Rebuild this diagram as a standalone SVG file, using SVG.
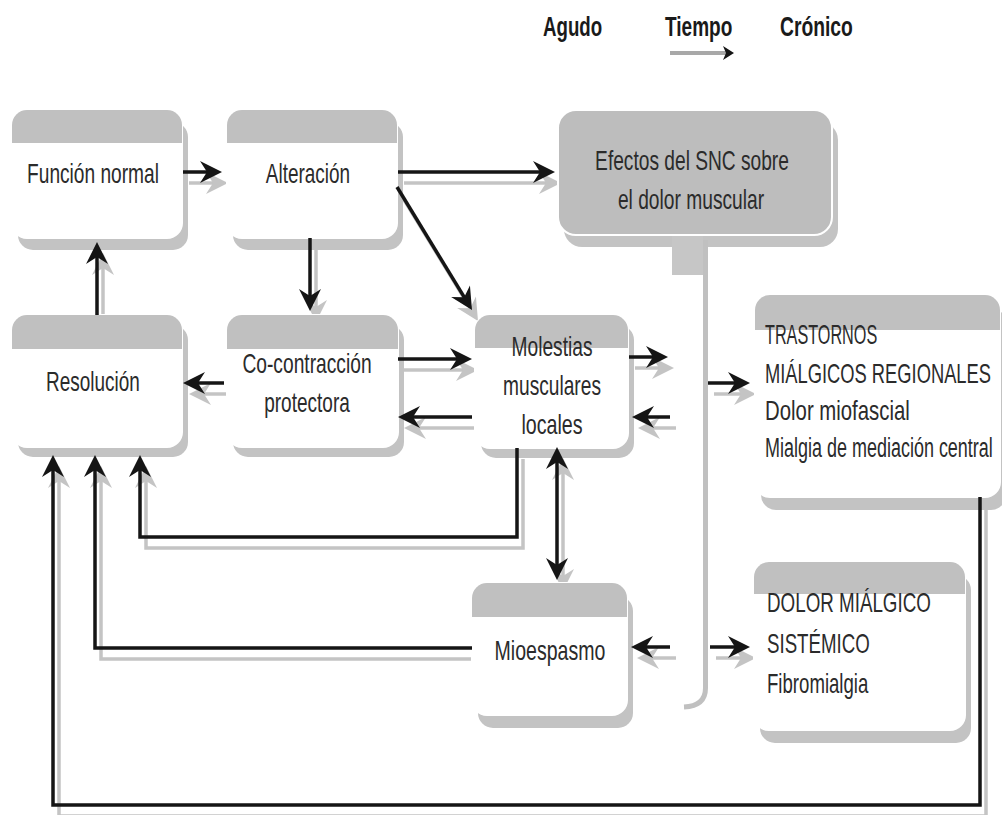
<svg xmlns="http://www.w3.org/2000/svg" width="1002" height="815" viewBox="0 0 1002 815">
<style>
  .bshadow{fill:#c3c3c3;}
  .body{fill:#ffffff;stroke:#ffffff;stroke-width:2;}
  .band{fill:#c0c0c0;}
  .t{font-family:"Liberation Sans",Arial,sans-serif;font-size:28px;fill:#2b2b2b;}
  .m{text-anchor:middle;}
  .hd{font-family:"Liberation Sans",Arial,sans-serif;font-size:27px;font-weight:bold;fill:#1a1a1a;}
  .c{fill:none;stroke:#151515;stroke-width:3.5;marker-end:url(#ah);}
  .s{fill:none;stroke:#c4c4c4;stroke-width:3.5;marker-end:url(#ahs);}
  .c2{fill:none;stroke:#151515;stroke-width:3.5;marker-start:url(#ah2);marker-end:url(#ah2);}
  .s2{fill:none;stroke:#c4c4c4;stroke-width:3.5;marker-start:url(#ahs2);marker-end:url(#ahs2);}
</style>
<defs>
  <marker id="ah" viewBox="-20 -12 27 24" refX="0" refY="0" markerWidth="27" markerHeight="24" markerUnits="userSpaceOnUse" orient="auto">
    <path d="M5,0 L-17,-11 L-10,0 L-17,11 Z" fill="#151515"/>
  </marker>
  <marker id="ahs" viewBox="-20 -12 27 24" refX="0" refY="0" markerWidth="27" markerHeight="24" markerUnits="userSpaceOnUse" orient="auto">
    <path d="M5,0 L-17,-11 L-10,0 L-17,11 Z" fill="#c4c4c4"/>
  </marker>
  <marker id="ah2" viewBox="-20 -12 27 24" refX="0" refY="0" markerWidth="27" markerHeight="24" markerUnits="userSpaceOnUse" orient="auto-start-reverse">
    <path d="M5,0 L-17,-11 L-10,0 L-17,11 Z" fill="#151515"/>
  </marker>
  <marker id="ahs2" viewBox="-20 -12 27 24" refX="0" refY="0" markerWidth="27" markerHeight="24" markerUnits="userSpaceOnUse" orient="auto-start-reverse">
    <path d="M5,0 L-17,-11 L-10,0 L-17,11 Z" fill="#c4c4c4"/>
  </marker>
</defs>
<rect width="1002" height="815" fill="#ffffff"/>

<g id="legend">
  <text class="hd" transform="translate(543,36) scale(0.68,1)" textLength="87" lengthAdjust="spacingAndGlyphs">Agudo</text>
  <text class="hd" transform="translate(665,36) scale(0.68,1)" textLength="99" lengthAdjust="spacingAndGlyphs">Tiempo</text>
  <text class="hd" transform="translate(780,36) scale(0.68,1)" textLength="107" lengthAdjust="spacingAndGlyphs">Crónico</text>
  <line x1="670" y1="53" x2="726" y2="53" stroke="#a8a8a8" stroke-width="4"/>
  <path d="M734,53 L723,46 L726,53 L723,60 Z" fill="#151515"/>
</g>

<g id="connector-shadows" transform="translate(6,11)">
  <path class="s" d="M183,172 H217"/>
  <path class="s" d="M398,172 H550"/>
  <path class="s" d="M397,187 L469.4,305.7"/>
  <path class="s" d="M310,238 V306"/>
  <path class="s" d="M97,315 V247"/>
  <path class="s" d="M224,383 H188"/>
  <path class="s" d="M398,359 H467"/>
  <path class="s" d="M472,417 H403"/>
  <path class="s" d="M629,357 H663"/>
  <path class="s" d="M670,417 H637"/>
  <path class="s" d="M708,383 H745"/>
  <path class="s" d="M517,448 V537 H140 V460"/>
  <path class="s2" d="M557,452 V575"/>
  <path class="s" d="M466,648 H95 V460"/>
  <path class="s" d="M670,647 H636"/>
  <path class="s" d="M710,647 H745"/>
  <path class="s" d="M980,497 V805 H53 V460"/>
</g>

<g id="n-funcion-normal">
  <rect class="bshadow" x="18" y="122" width="170" height="128" rx="15"/>
  <rect class="body" x="12" y="110" width="170" height="128" rx="15"/>
  <path class="band" d="M12,143 V125 A15,15 0 0 1 27,110 H167 A15,15 0 0 1 182,125 V143 Z"/>
  <text class="t m" transform="translate(93,183) scale(0.68,1)" textLength="194" lengthAdjust="spacingAndGlyphs">Función normal</text>
</g>

<g id="n-alteracion">
  <rect class="bshadow" x="233" y="122" width="170" height="128" rx="15"/>
  <rect class="body" x="227" y="110" width="170" height="128" rx="15"/>
  <path class="band" d="M227,143 V125 A15,15 0 0 1 242,110 H382 A15,15 0 0 1 397,125 V143 Z"/>
  <text class="t m" transform="translate(308,183) scale(0.68,1)" textLength="124" lengthAdjust="spacingAndGlyphs">Alteración</text>
</g>

<g id="n-snc">
  <rect class="bshadow" x="564" y="122" width="274" height="125" rx="18"/>
  <rect x="672" y="235" width="31" height="40" fill="#c6c6c6"/>
  <path d="M705.5,240 V688 Q705.5,706 684,707" fill="none" stroke="#c0c0c0" stroke-width="5"/>
  <rect x="558" y="110" width="274" height="125" rx="18" fill="#bdbdbd" stroke="#ffffff" stroke-width="2"/>
  <text class="t m" transform="translate(692,170) scale(0.68,1)" textLength="285" lengthAdjust="spacingAndGlyphs">Efectos del SNC sobre</text>
  <text class="t m" transform="translate(691,209) scale(0.68,1)" textLength="215" lengthAdjust="spacingAndGlyphs">el dolor muscular</text>
</g>

<g id="n-resolucion">
  <rect class="bshadow" x="18" y="325" width="170" height="132" rx="15"/>
  <rect class="body" x="12" y="315" width="170" height="132" rx="15"/>
  <path class="band" d="M12,349 V330 A15,15 0 0 1 27,315 H167 A15,15 0 0 1 182,330 V349 Z"/>
  <text class="t m" transform="translate(93,391) scale(0.68,1)" textLength="138" lengthAdjust="spacingAndGlyphs">Resolución</text>
</g>

<g id="n-cocontraccion">
  <rect class="bshadow" x="233" y="325" width="171" height="132" rx="15"/>
  <rect class="body" x="227" y="315" width="171" height="132" rx="15"/>
  <path class="band" d="M227,349 V330 A15,15 0 0 1 242,315 H383 A15,15 0 0 1 398,330 V349 Z"/>
  <text class="t m" transform="translate(307,373) scale(0.68,1)" textLength="190" lengthAdjust="spacingAndGlyphs">Co-contracción</text>
  <text class="t m" transform="translate(307,412) scale(0.68,1)" textLength="126" lengthAdjust="spacingAndGlyphs">protectora</text>
</g>

<g id="n-molestias">
  <rect class="bshadow" x="481" y="325" width="153" height="133" rx="15"/>
  <rect class="body" x="475" y="315" width="153" height="133" rx="15"/>
  <path class="band" d="M475,348 V330 A15,15 0 0 1 490,315 H613 A15,15 0 0 1 628,330 V348 Z"/>
  <text class="t m" transform="translate(552,356) scale(0.68,1)" textLength="119" lengthAdjust="spacingAndGlyphs">Molestias</text>
  <text class="t m" transform="translate(552,395) scale(0.68,1)" textLength="144" lengthAdjust="spacingAndGlyphs">musculares</text>
  <text class="t m" transform="translate(552,434) scale(0.68,1)" textLength="90" lengthAdjust="spacingAndGlyphs">locales</text>
</g>

<g id="n-mioespasmo">
  <rect class="bshadow" x="478" y="596" width="155" height="132" rx="15"/>
  <rect class="body" x="472" y="583" width="155" height="132" rx="15"/>
  <path class="band" d="M472,617 V598 A15,15 0 0 1 487,583 H612 A15,15 0 0 1 627,598 V617 Z"/>
  <text class="t m" transform="translate(550,660) scale(0.68,1)" textLength="163" lengthAdjust="spacingAndGlyphs">Mioespasmo</text>
</g>

<g id="n-trastornos">
  <rect class="bshadow" x="761" y="308" width="245" height="202" rx="15"/>
  <rect class="body" x="755" y="295" width="245" height="202" rx="15"/>
  <path class="band" d="M755,330 V310 A15,15 0 0 1 770,295 H985 A15,15 0 0 1 1000,310 V330 Z"/>
  <text class="t" transform="translate(765,344) scale(0.68,1)" textLength="165" lengthAdjust="spacingAndGlyphs">TRASTORNOS</text>
  <text class="t" transform="translate(765,383) scale(0.655,1)" textLength="345" lengthAdjust="spacingAndGlyphs">MIÁLGICOS REGIONALES</text>
  <text class="t" transform="translate(765,420) scale(0.68,1)" textLength="213" lengthAdjust="spacingAndGlyphs">Dolor miofascial</text>
  <text class="t" transform="translate(765,457) scale(0.64,1)" textLength="356" lengthAdjust="spacingAndGlyphs">Mialgia de mediación central</text>
</g>

<g id="n-dolor-sistemico">
  <rect class="bshadow" x="760" y="575" width="211" height="168" rx="15"/>
  <rect class="body" x="754" y="562" width="211" height="168" rx="15"/>
  <path class="band" d="M754,594 V577 A15,15 0 0 1 769,562 H950 A15,15 0 0 1 965,577 V594 Z"/>
  <text class="t" transform="translate(767,612) scale(0.68,1)" textLength="241" lengthAdjust="spacingAndGlyphs">DOLOR MIÁLGICO</text>
  <text class="t" transform="translate(767,653) scale(0.68,1)" textLength="151" lengthAdjust="spacingAndGlyphs">SISTÉMICO</text>
  <text class="t" transform="translate(767,693) scale(0.68,1)" textLength="149" lengthAdjust="spacingAndGlyphs">Fibromialgia</text>
</g>

<g id="connectors">
  <path class="c" d="M183,172 H217"/>
  <path class="c" d="M398,172 H550"/>
  <path class="c" d="M397,187 L469.4,305.7"/>
  <path class="c" d="M310,238 V306"/>
  <path class="c" d="M97,315 V247"/>
  <path class="c" d="M224,383 H188"/>
  <path class="c" d="M398,359 H467"/>
  <path class="c" d="M472,417 H403"/>
  <path class="c" d="M629,357 H663"/>
  <path class="c" d="M670,417 H637"/>
  <path class="c" d="M708,383 H745"/>
  <path class="c" d="M517,448 V537 H140 V460"/>
  <path class="c2" d="M557,452 V575"/>
  <path class="c" d="M472,648 H95 V460"/>
  <path class="c" d="M670,647 H636"/>
  <path class="c" d="M710,647 H745"/>
  <path class="c" d="M980,497 V805 H53 V460"/>
</g>
</svg>
